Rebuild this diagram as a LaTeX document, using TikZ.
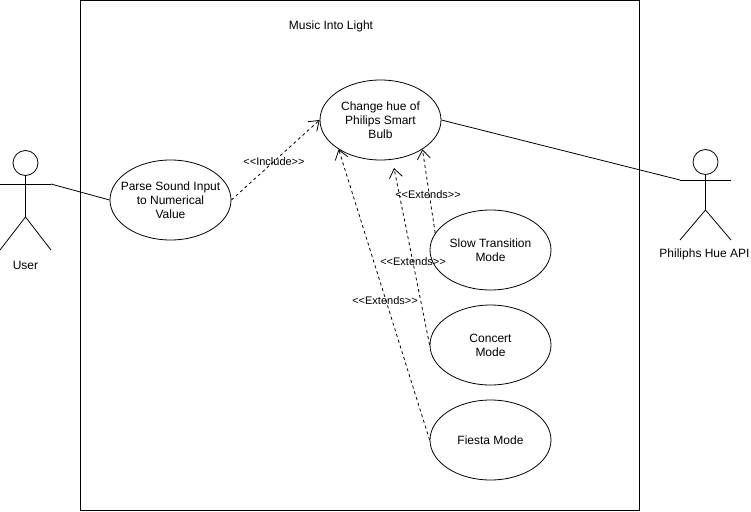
\documentclass[tikz,border=0pt]{standalone}
\usepackage{fontspec}
\setmainfont{Liberation Sans}
\usetikzlibrary{arrows.meta,shapes.geometric}
\tikzset{
  usecase/.style={draw,ellipse,inner sep=-16pt,minimum width=121,minimum height=80,align=center,font=\fontsize{12}{14}\selectfont},
  lbl/.style={inner sep=0pt,align=center,font=\fontsize{12}{14}\selectfont},
  tag/.style={inner sep=0pt,font=\fontsize{11}{13}\selectfont},
  dep/.style={dashed,dash pattern=on 3pt off 3pt,-{Straight Barb[length=9pt,width=13pt]}},
}

\begin{document}
\begin{tikzpicture}[x=1pt,y=-1pt,line width=0.8pt]
\useasboundingbox(0,0)rectangle(751,511);
\draw(80.5,0.5)rectangle(639.5,510.5);
\node[lbl](title)at(331,26){Music Into Light};
% use cases
\node[usecase](hue)at(380.5,120){Change hue of\\Philips Smart\\Bulb};
\node[usecase](parse)at(170.5,200){Parse Sound Input\\to Numerical\\Value};
\node[usecase](slow)at(490.5,250){Slow Transition\\Mode};
\node[usecase](concert)at(490.5,345){Concert\\Mode};
\node[usecase](fiesta)at(490.5,440){Fiesta Mode};
% user
\coordinate(UserHip)at(25.5,217);\coordinate(UserHand)at(51,184);\coordinate(UserArm)at(0,184);
\coordinate(UserL)at(0,250);\coordinate(UserR)at(51,250);
\node[draw,circle,inner sep=0pt,minimum size=25](userhead)at(25.5,163){};
\draw(userhead.south)--(UserHip);\draw(UserArm)--(UserHand);\draw(UserL)--(UserHip)--(UserR);
\node[lbl](user)at(25.5,265){User};
% api
\coordinate(ApiHip)at(705.5,210);\coordinate(ApiHand)at(680,180);\coordinate(ApiArm)at(731,180);
\coordinate(ApiL)at(680,240);\coordinate(ApiR)at(731,240);
\node[draw,circle,inner sep=0pt,minimum size=25](apihead)at(705.5,162){};
\draw(apihead.south)--(ApiHip);\draw(ApiHand)--(ApiArm);\draw(ApiL)--(ApiHip)--(ApiR);
\node[lbl](api)at(704.5,254){Philiphs Hue API};
% links
\draw(UserHand)--(parse.west);
\draw(hue.east)--(ApiHand);
\coordinate(ConcertTip)at(394,168);
\draw[dep](parse.east)--(hue.west);
\draw[dep](slow.163)--(hue.-35);
\draw[dep](concert.west)--(ConcertTip);
\draw[dep](fiesta.west)--(hue.-145);
\node[tag](inc)at(274,162){<{}<Include>{}>};
\node[tag](ext1)at(428,195){<{}<Extends>{}>};
\node[tag](ext2)at(413,262){<{}<Extends>{}>};
\node[tag](ext3)at(385,301){<{}<Extends>{}>};
\end{tikzpicture}
\end{document}
